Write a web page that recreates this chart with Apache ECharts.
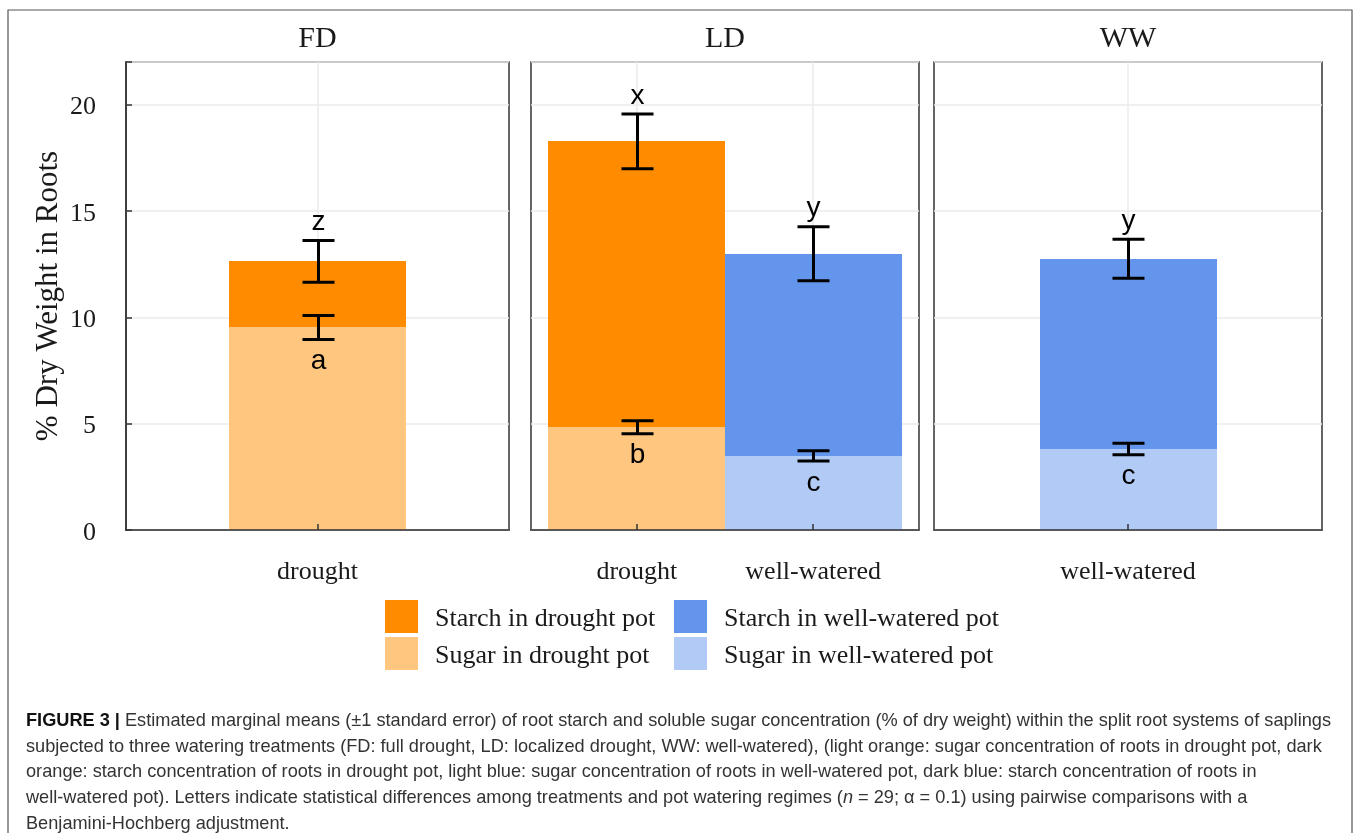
<!DOCTYPE html>
<html>
<head>
<meta charset="utf-8">
<title>Root starch and sugar</title>
<script src="https://cdn.jsdelivr.net/npm/echarts@6/dist/echarts.min.js"></script>
<style>
  html, body { margin: 0; padding: 0; background: #ffffff; }
  #chart { width: 1357px; height: 833px; }
</style>
</head>
<body>
<div id="chart"></div>
<script>
// Watering treatments (one facet each) and the pots shown inside each facet
const panels = ['FD', 'LD', 'WW'];
const panelPots = [['drought'], ['drought', 'well-watered'], ['well-watered']];

// One entry per stacked bar
const barPanel = ['FD', 'LD', 'LD', 'WW'];
const barPot = ['drought', 'drought', 'well-watered', 'well-watered'];
const sugarMean = [9.52, 4.83, 3.48, 3.81];
const sugarSE = [0.56, 0.30, 0.24, 0.27];
const starchMean = [3.11, 13.44, 9.51, 8.94];
const starchSE = [0.98, 1.29, 1.27, 0.92];
const sugarLetter = ['a', 'b', 'c', 'c'];
const starchLetter = ['z', 'x', 'y', 'y'];

const yTicks = [0, 5, 10, 15, 20];
const yMax = 22;

const seriesDefs = [
  { name: 'Sugar in drought pot', part: 'sugar', pot: 'drought', color: '#FFC680' },
  { name: 'Sugar in well-watered pot', part: 'sugar', pot: 'well-watered', color: '#B2CAF6' },
  { name: 'Starch in drought pot', part: 'starch', pot: 'drought', color: '#FF8C00' },
  { name: 'Starch in well-watered pot', part: 'starch', pot: 'well-watered', color: '#6495ED' }
];

const captionLines = [
  ['FIGURE 3 |', ' Estimated marginal means (±1 standard error) of root starch and soluble sugar concentration (% of dry weight) within the split root systems of saplings'],
  ['', 'subjected to three watering treatments (FD: full drought, LD: localized drought, WW: well-watered), (light orange: sugar concentration of roots in drought pot, dark'],
  ['', 'orange: starch concentration of roots in drought pot, light blue: sugar concentration of roots in well-watered pot, dark blue: starch concentration of roots in'],
  ['', 'well-watered pot). Letters indicate statistical differences among treatments and pot watering regimes (', 'n', ' = 29; α = 0.1) using pairwise comparisons with a'],
  ['', 'Benjamini-Hochberg adjustment.']
];

const SERIF = '"Liberation Serif", "Times New Roman", serif';
const SANS = '"Liberation Sans", Arial, sans-serif';
const INK = '#1a1a1a';
const FRAME = '#333333';
const GRIDLINE = '#EBEBEB';
const CAPTION_SIZE = 19;
const CAPTION_WIDTH = 1305;

// facet rectangles
const gridBoxes = [
  { left: 126, top: 62, width: 383, height: 468 },
  { left: 531, top: 62, width: 388, height: 468 },
  { left: 934, top: 62, width: 388, height: 468 }
];
const BAR_WIDTH = 177;

function barIndexOf(panel, pot) {
  for (let b = 0; b < barPanel.length; b++) {
    if (barPanel[b] === panel && barPot[b] === pot) return b;
  }
  return -1;
}

// one stacked segment: [x position, lower value, upper value]
function renderSegment(params, api) {
  const x = api.value(0);
  const pLo = api.coord([x, api.value(1)]);
  const pHi = api.coord([x, api.value(2)]);
  const left = Math.round(pLo[0] - BAR_WIDTH / 2);
  const top = Math.round(pHi[1]);
  const bottom = Math.round(pLo[1]);
  return {
    type: 'rect',
    shape: { x: left, y: top, width: BAR_WIDTH, height: bottom - top },
    style: api.style()
  };
}

const grids = [], xAxes = [], yAxes = [], series = [];

panels.forEach(function (panel, g) {
  const pots = panelPots[g];
  const positions = pots.map(function (_, i) { return i + 1; });

  grids.push(Object.assign({ show: true, borderColor: FRAME, borderWidth: 1.5, containLabel: false }, gridBoxes[g]));

  xAxes.push({
    type: 'value', gridIndex: g, min: 0.4, max: pots.length + 0.6, z: 5,
    axisLine: { show: true, onZero: false, lineStyle: { color: FRAME, width: 1.5 } },
    axisTick: { show: true, inside: true, length: 6, customValues: positions, lineStyle: { color: FRAME, width: 1.5 } },
    axisLabel: {
      customValues: positions, margin: 29,
      formatter: function (v) { return pots[Math.round(v) - 1]; },
      fontFamily: SERIF, fontSize: 26, color: INK
    },
    splitLine: { show: false }
  });

  yAxes.push({
    type: 'value', gridIndex: g, min: 0, max: yMax, interval: 5,
    name: g === 0 ? '% Dry Weight in Roots' : '',
    nameLocation: 'middle', nameRotate: 90, nameGap: 62,
    nameTextStyle: { fontFamily: SERIF, fontSize: 31, color: INK },
    axisLine: { show: g === 0, lineStyle: { color: FRAME, width: 1.5 } },
    axisTick: { show: g === 0, inside: true, length: 6, lineStyle: { color: FRAME, width: 1.5 } },
    axisLabel: {
      show: g === 0, margin: 30,
      formatter: function (v) { return yTicks.indexOf(v) >= 0 ? '{s| }\n{v|' + v + '}' : ''; },
      rich: {
        s: { fontSize: 6, lineHeight: 6 },
        v: { fontFamily: SERIF, fontSize: 26, color: INK }
      }
    },
    splitLine: { show: true, lineStyle: { color: GRIDLINE, width: 1.5 } }
  });

  // vertical grid lines at each pot position, under the bars
  series.push({
    type: 'line', xAxisIndex: g, yAxisIndex: g, data: [], silent: true, z: 1,
    markLine: {
      silent: true, symbol: 'none', animation: false, z: 1,
      label: { show: false },
      lineStyle: { color: GRIDLINE, width: 1.5, type: 'solid' },
      emphasis: { disabled: true },
      data: positions.map(function (p) { return { xAxis: p }; })
    }
  });

  // stacked bars: sugar at the bottom, starch on top of it
  seriesDefs.forEach(function (def) {
    const data = [];
    pots.forEach(function (pot, i) {
      if (def.pot !== pot) return;
      const b = barIndexOf(panel, pot);
      if (def.part === 'sugar') data.push([i + 1, 0, sugarMean[b]]);
      else data.push([i + 1, sugarMean[b], sugarMean[b] + starchMean[b]]);
    });
    series.push({
      type: 'custom', name: def.name, xAxisIndex: g, yAxisIndex: g, z: 2,
      itemStyle: { color: def.color },
      emphasis: { disabled: true },
      encode: { x: 0, y: [1, 2] },
      renderItem: renderSegment,
      data: data
    });
  });

  // error bars (±1 SE) with significance letters
  const ebData = [], ebLetter = [], ebSide = [];
  pots.forEach(function (pot, i) {
    const b = barIndexOf(panel, pot);
    const s = sugarMean[b];
    const tot = sugarMean[b] + starchMean[b];
    ebData.push([i + 1, s - sugarSE[b], s + sugarSE[b]]);
    ebLetter.push(sugarLetter[b]); ebSide.push(-1);
    ebData.push([i + 1, tot - starchSE[b], tot + starchSE[b]]);
    ebLetter.push(starchLetter[b]); ebSide.push(1);
  });

  series.push({
    type: 'custom', xAxisIndex: g, yAxisIndex: g, z: 4, silent: true,
    encode: { x: 0, y: [1, 2] },
    data: ebData,
    renderItem: function (params, api) {
      const x = api.value(0);
      const pLo = api.coord([x, api.value(1)]);
      const pHi = api.coord([x, api.value(2)]);
      const cx = Math.round(pLo[0]) + 0.5;
      const hw = 16;
      const st = { stroke: '#000', lineWidth: 3 };
      const side = ebSide[params.dataIndex];
      const ty = side > 0 ? pHi[1] - 18 : pLo[1] + 22;
      return {
        type: 'group',
        children: [
          { type: 'line', shape: { x1: cx, y1: pLo[1], x2: cx, y2: pHi[1] }, style: st },
          { type: 'line', shape: { x1: cx - hw, y1: pLo[1], x2: cx + hw, y2: pLo[1] }, style: st },
          { type: 'line', shape: { x1: cx - hw, y1: pHi[1], x2: cx + hw, y2: pHi[1] }, style: st },
          {
            type: 'text', x: cx, y: ty,
            style: {
              text: ebLetter[params.dataIndex], fill: '#000',
              font: '28px ' + SANS, align: 'center', verticalAlign: 'middle'
            }
          }
        ]
      };
    }
  });
});

const graphics = [
  // outer figure frame
  { type: 'rect', shape: { x: 8, y: 10, width: 1344, height: 840 }, style: { fill: 'none', stroke: '#555', lineWidth: 1.2 }, silent: true, z: 0 }
];

// facet strip titles
panels.forEach(function (panel, g) {
  const box = gridBoxes[g];
  graphics.push({
    type: 'text', x: box.left + box.width / 2, y: 39, silent: true,
    style: { text: panel, font: '30px ' + SERIF, fill: INK, align: 'center', verticalAlign: 'middle' }
  });
});

// caption: a condensed sans setting, squeezed so the first line spans the text block
const measure = document.createElement('canvas').getContext('2d');
function plainWidth(parts) {
  let w = 0;
  parts.forEach(function (p, k) {
    measure.font = (k === 0 && p ? 'bold ' : '') + CAPTION_SIZE + 'px ' + SANS;
    w += measure.measureText(p).width;
  });
  return w;
}
const captionScale = CAPTION_WIDTH / plainWidth(captionLines[0]);

captionLines.forEach(function (parts, i) {
  let rich = '';
  parts.forEach(function (p, k) {
    if (!p) return;
    if (k === 0) rich += '{b|' + p + '}';
    else if (k === 2) rich += '{i|' + p + '}';
    else rich += '{r|' + p + '}';
  });
  graphics.push({
    type: 'text', x: 26, y: 721 + i * 25.6, scaleX: captionScale, silent: true,
    style: {
      text: rich, verticalAlign: 'middle', align: 'left',
      rich: {
        r: { fontFamily: SANS, fontSize: CAPTION_SIZE, fill: '#333' },
        b: { fontFamily: SANS, fontSize: CAPTION_SIZE, fontWeight: 'bold', fill: '#111' },
        i: { fontFamily: SANS, fontSize: CAPTION_SIZE, fontStyle: 'italic', fill: '#333' }
      }
    }
  });
});

const legendText = {
  padding: [0, 0, 0, 12],
  rich: {
    s: { fontSize: 6, lineHeight: 6 },
    t: { fontFamily: SERIF, fontSize: 26, color: INK }
  }
};
function legendLabel(name) { return '{s| }\n{t|' + name + '}'; }

const option = {
  animation: false,
  backgroundColor: '#ffffff',
  grid: grids,
  xAxis: xAxes,
  yAxis: yAxes,
  legend: [
    {
      left: 380, top: 595, orient: 'vertical', icon: 'rect', itemWidth: 33, itemHeight: 33, itemGap: 4,
      selectedMode: false, textStyle: legendText, formatter: legendLabel,
      data: ['Starch in drought pot', 'Sugar in drought pot']
    },
    {
      left: 669, top: 595, orient: 'vertical', icon: 'rect', itemWidth: 33, itemHeight: 33, itemGap: 4,
      selectedMode: false, textStyle: legendText, formatter: legendLabel,
      data: ['Starch in well-watered pot', 'Sugar in well-watered pot']
    }
  ],
  series: series,
  graphic: graphics
};

const chart = echarts.init(document.getElementById('chart'), null, { renderer: 'canvas' });
chart.setOption(option);
</script>
</body>
</html>
